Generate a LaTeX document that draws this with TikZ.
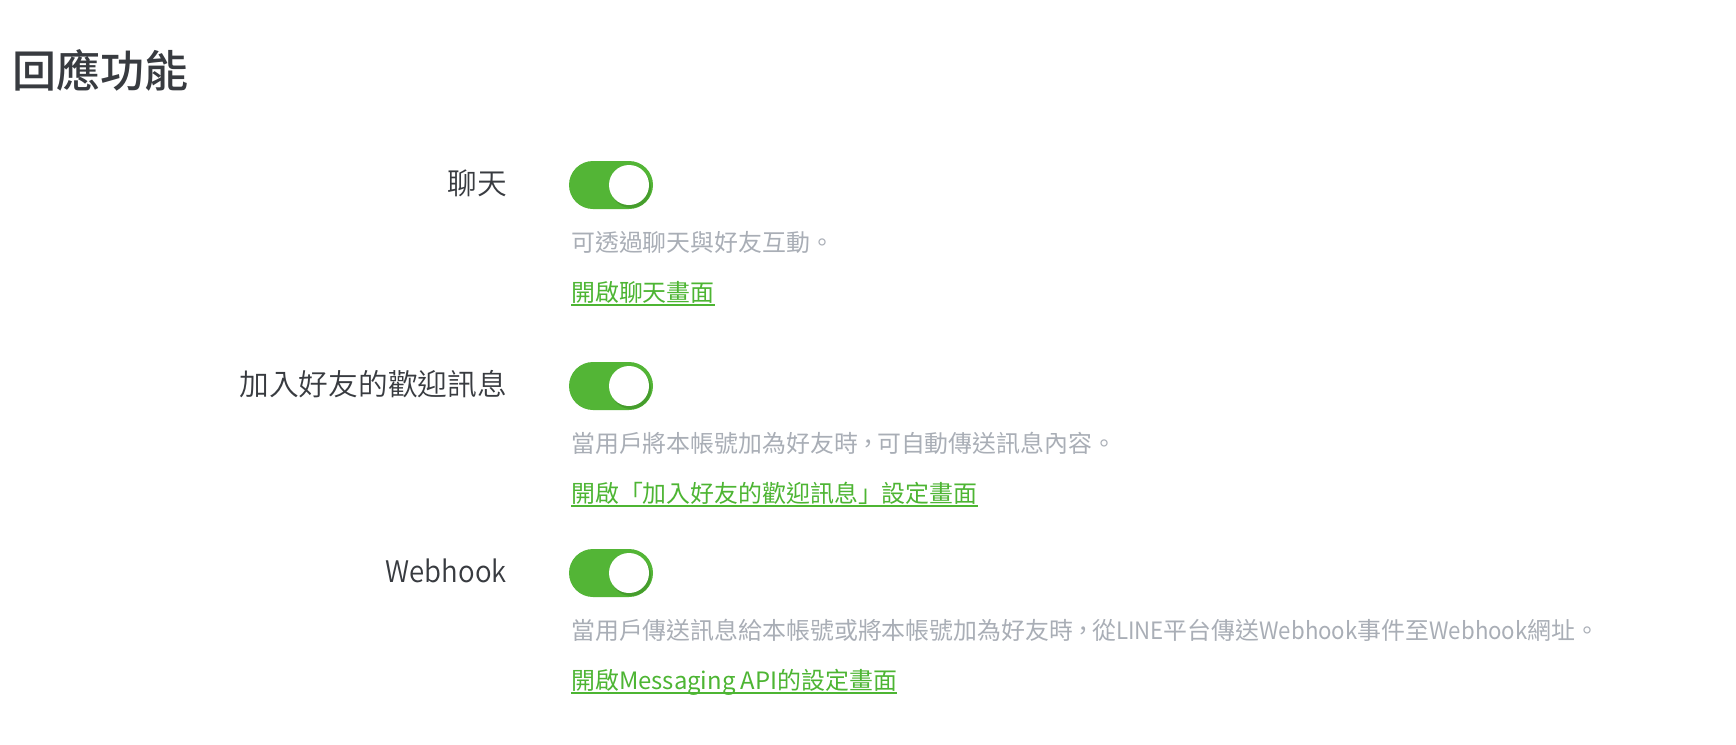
\documentclass[tikz,border=0pt]{standalone}
\usepackage{fontspec}
\setmainfont{Noto Sans CJK TC}
\newfontfamily\titlefont{Noto Sans CJK TC Medium}
\newfontfamily\labelfont{Noto Sans CJK TC DemiLight}
\newfontfamily\labellatin[FakeStretch=0.93]{Noto Sans CJK TC DemiLight}
\newfontfamily\desclatin[FakeStretch=0.93]{Noto Sans CJK TC}
\usetikzlibrary{calc}
\definecolor{txtdark}{HTML}{383B40}
\definecolor{txtgray}{HTML}{A9AEB6}
\definecolor{linkgreen}{HTML}{4DB533}
\definecolor{toggreen}{HTML}{53B536}
\definecolor{knobshadow}{HTML}{3C8A27}
\tikzset{
  x=1pt, y=-1pt,
  titletext/.style={anchor=base west, inner sep=0pt, text=txtdark, font=\titlefont\fontsize{44}{48}\selectfont},
  labeltext/.style={anchor=base east, inner sep=0pt, text=txtdark, font=\labelfont\fontsize{29.7}{32}\selectfont},
  desctext/.style={anchor=base west, inner sep=0pt, text=txtgray, font=\fontsize{23.9}{28}\selectfont},
  linktext/.style={anchor=base west, inner sep=0pt, text=linkgreen, font=\fontsize{23.9}{28}\selectfont},
  underline/.style={draw=linkgreen, line width=2pt},
  track/.style={fill=toggreen, rounded corners=24pt},
  knob/.style={fill=white},
  knobshade/.style={fill=knobshadow, opacity=0.55}
}
\newcommand{\mytoggle}[2]{%
  \fill[track] (569,#1-24) rectangle (653,#1+24);
  \fill[knobshade] (631,#1+3) circle (20);
  \fill[knob] (629,#1) circle (20);
  \coordinate (#2) at (569,#1);
}
\newcommand{\dl}[1]{{\desclatin #1}}
\newcommand{\cm}{\kern-0.08em，\kern-0.12em}
\begin{document}
\begin{tikzpicture}
\useasboundingbox (0,0) rectangle (1736,744);
\fill[white] (0,0) rectangle (1736,744);

\node[titletext] (title) at (12,87) {回應功能};

% row 1
\mytoggle{185}{t1}
\node[labeltext] (lab1) at (507,194) {聊天};
\node[desctext] (d1) at (571,251) {可透過聊天與好友互動。};
\node[linktext] (l1) at (571,301) {開啟聊天畫面};
\draw[underline] ([yshift=-3.5pt]l1.base west) -- ([yshift=-3.5pt]l1.base east);

% row 2
\mytoggle{386}{t2}
\node[labeltext] (lab2) at (507,395) {加入好友的歡迎訊息};
\node[desctext] (d2) at (571,452) {當用戶將本帳號加為好友時\cm 可自動傳送訊息內容。};
\node[linktext] (l2) at (571,502) {開啟「加入好友的歡迎訊息」設定畫面};
\draw[underline] ([yshift=-3.5pt]l2.base west) -- ([yshift=-3.5pt]l2.base east);

% row 3
\mytoggle{573}{t3}
\node[labeltext] (lab3) at (507,582) {\labellatin Webhook};
\node[desctext] (d3) at (571,639) {當用戶傳送訊息給本帳號或將本帳號加為好友時\cm 從\dl{LINE}平台傳送\dl{Webhook}事件至\dl{Webhook}網址。};
\node[linktext] (l3) at (571,689) {開啟Messaging API的設定畫面};
\draw[underline] ([yshift=-3.5pt]l3.base west) -- ([yshift=-3.5pt]l3.base east);
\end{tikzpicture}
\end{document}
